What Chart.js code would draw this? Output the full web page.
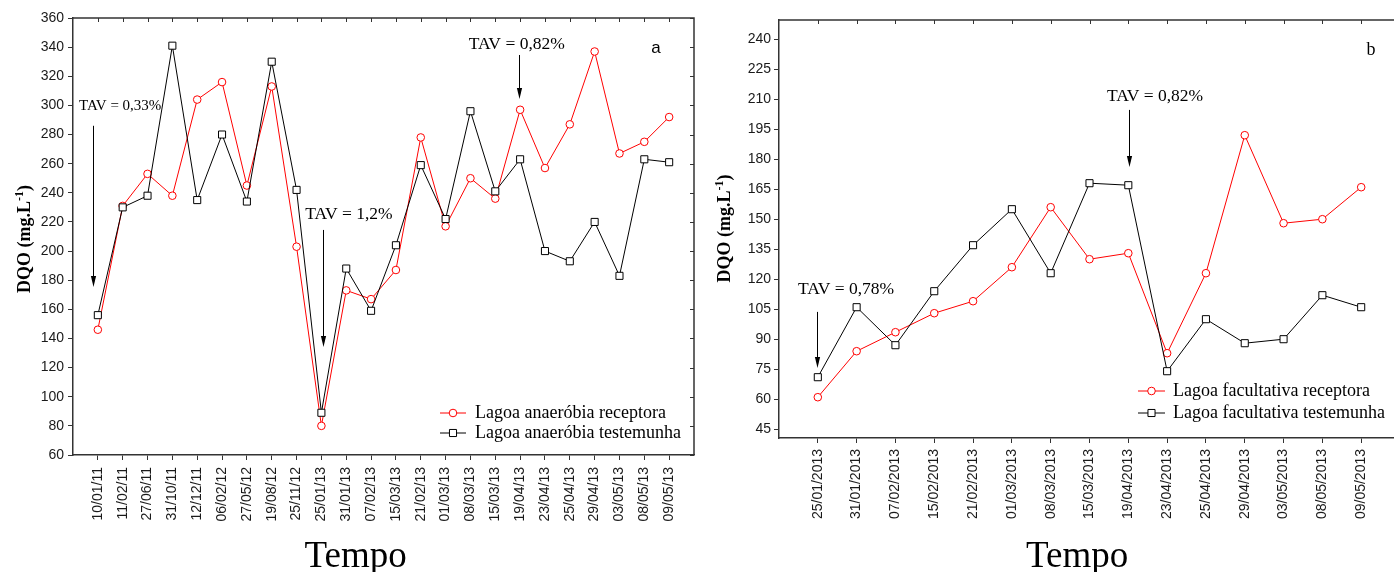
<!DOCTYPE html>
<html>
<head>
<meta charset="utf-8">
<title>DQO – lagoas</title>
<script src="https://cdn.jsdelivr.net/npm/chart.js@4/dist/chart.umd.min.js"></script>
<style>
  html, body { margin: 0; padding: 0; background: #fff; overflow: hidden; width: 1394px; height: 572px; position: relative; }
  canvas { position: absolute; top: 0; }
  #chartA { left: 0; }
  #chartB { left: 700px; }
</style>
</head>
<body>
<canvas id="chartA" width="700" height="572"></canvas>
<canvas id="chartB" width="706" height="572"></canvas>
<script>
// ---- Painel a: lagoas anaeróbias ----
const datasA = ['10/01/11', '11/02/11', '27/06/11', '31/10/11', '12/12/11', '06/02/12', '27/05/12', '19/08/12',
  '25/11/12', '25/01/13', '31/01/13', '07/02/13', '15/03/13', '21/02/13', '01/03/13', '08/03/13',
  '15/03/13', '19/04/13', '23/04/13', '25/04/13', '29/04/13', '03/05/13', '08/05/13', '09/05/13'];
const receptoraA = [146, 231, 253, 238, 304, 316, 245, 313, 203, 80, 173, 167, 187, 278, 217, 250, 236, 297, 257, 287, 337, 267, 275, 292];
const testemunhaA = [156, 230, 238, 341, 235, 280, 234, 330, 242, 89, 188, 159, 204, 259, 222, 296, 241, 263, 200, 193, 220, 183, 263, 261];
const yTicksA = [60, 80, 100, 120, 140, 160, 180, 200, 220, 240, 260, 280, 300, 320, 340, 360];

// ---- Painel b: lagoas facultativas ----
const datasB = ['25/01/2013', '31/01/2013', '07/02/2013', '15/02/2013', '21/02/2013', '01/03/2013', '08/03/2013',
  '15/03/2013', '19/04/2013', '23/04/2013', '25/04/2013', '29/04/2013', '03/05/2013', '08/05/2013', '09/05/2013'];
const receptoraB = [61, 84, 93.5, 103, 109, 126, 156, 130, 133, 83, 123, 192, 148, 150, 166];
const testemunhaB = [71, 106, 87, 114, 137, 155, 123, 168, 167, 74, 100, 88, 90, 112, 106];
const yTicksB = [45, 60, 75, 90, 105, 120, 135, 150, 165, 180, 195, 210, 225, 240];

const SERIF = '"Liberation Serif", "Times New Roman", serif';
const SANS = '"Liberation Sans", Arial, sans-serif';
const AXIS = '#333';
const INK = '#1a1a1a';

// Frame, inward ticks, TAV notes, legend and axis titles
const panelDecor = {
  id: 'panelDecor',
  afterDraw(chart, args, o) {
    const { ctx, chartArea: ca, scales: { x, y } } = chart;
    ctx.save();

    // top and right sides of the frame
    ctx.strokeStyle = AXIS;
    ctx.lineWidth = 1.5;
    ctx.beginPath();
    ctx.moveTo(ca.left, ca.top);
    ctx.lineTo(ca.right, ca.top);
    ctx.lineTo(ca.right, ca.bottom);
    ctx.stroke();

    // inward tick marks on the top and right sides
    ctx.lineWidth = 1;
    ctx.beginPath();
    x.ticks.forEach(t => {
      const px = Math.round(x.getPixelForValue(t.value)) + 0.5;
      ctx.moveTo(px, ca.top);
      ctx.lineTo(px, ca.top + 4);
    });
    y.ticks.forEach(t => {
      const py = Math.round(y.getPixelForValue(t.value)) + 0.5;
      ctx.moveTo(ca.right, py);
      ctx.lineTo(ca.right - 4, py);
    });
    ctx.stroke();

    // TAV notes with arrows
    ctx.fillStyle = '#000';
    ctx.strokeStyle = '#000';
    ctx.textBaseline = 'middle';
    ctx.textAlign = 'left';
    o.notes.forEach(n => {
      ctx.font = `${n.size}px ${SERIF}`;
      ctx.fillText(n.text, x.getPixelForValue(n.tx), y.getPixelForValue(n.ty));
      const ax = Math.round(x.getPixelForValue(n.ax)) + 0.5;
      const y1 = y.getPixelForValue(n.ay1);
      const y2 = y.getPixelForValue(n.ay2);
      ctx.lineWidth = 1;
      ctx.beginPath();
      ctx.moveTo(ax, y1);
      ctx.lineTo(ax, y2 - 6);
      ctx.stroke();
      ctx.beginPath();
      ctx.moveTo(ax, y2);
      ctx.lineTo(ax - 2.6, y2 - 11);
      ctx.lineTo(ax + 2.6, y2 - 11);
      ctx.closePath();
      ctx.fill();
    });

    // panel letter
    ctx.font = o.letter.font;
    ctx.textAlign = 'center';
    ctx.fillText(o.letter.text, x.getPixelForValue(o.letter.x), y.getPixelForValue(o.letter.y));

    // legend
    const lg = o.legend;
    chart.data.datasets.forEach((ds, i) => {
      const ry = ca.bottom + lg.rows[i];
      const x0 = ca.right + lg.lineFrom, x1 = ca.right + lg.lineTo;
      ctx.strokeStyle = ds.borderColor;
      ctx.lineWidth = 1;
      ctx.beginPath();
      ctx.moveTo(x0, ry);
      ctx.lineTo(x1, ry);
      ctx.stroke();
      ctx.fillStyle = ds.pointBackgroundColor;
      Chart.helpers.drawPoint(ctx, { pointStyle: ds.pointStyle, radius: ds.pointRadius, rotation: 0, borderWidth: 1 }, (x0 + x1) / 2, ry);
      ctx.fillStyle = '#000';
      ctx.font = `18px ${SERIF}`;
      ctx.textAlign = 'left';
      ctx.textBaseline = 'middle';
      ctx.fillText(ds.label, ca.right + lg.text, ry);
    });

    // y axis title with superscript
    ctx.save();
    ctx.translate(o.yTitle.x, o.yTitle.y);
    ctx.rotate(-Math.PI / 2);
    ctx.fillStyle = '#000';
    ctx.textBaseline = 'alphabetic';
    ctx.textAlign = 'left';
    const big = `bold 18px ${SERIF}`, small = `bold 12px ${SERIF}`;
    const partA = 'DQO (mg.L', sup = '-1', partB = ')';
    ctx.font = big; const wA = ctx.measureText(partA).width, wB = ctx.measureText(partB).width;
    ctx.font = small; const wS = ctx.measureText(sup).width;
    let cx = -(wA + wS + wB) / 2;
    const base = 6;
    ctx.font = big; ctx.fillText(partA, cx, base); cx += wA;
    ctx.font = small; ctx.fillText(sup, cx, base - 7); cx += wS;
    ctx.font = big; ctx.fillText(partB, cx, base);
    ctx.restore();

    // x axis title
    ctx.font = `37px ${SERIF}`;
    ctx.fillStyle = '#000';
    ctx.textAlign = 'center';
    ctx.textBaseline = 'alphabetic';
    ctx.fillText('Tempo', x.getPixelForValue(o.xTitle.x), o.xTitle.baseline);

    ctx.restore();
  }
};

function makePanel(id, cats, rec, tes, yTicks, yMin, yMax, labels, box, decor) {
  const pts = arr => arr.map((v, i) => ({ x: i, y: v }));
  return new Chart(document.getElementById(id), {
    type: 'line',
    data: {
      datasets: [
        {
          label: labels[0], data: pts(rec), order: 1,
          borderColor: '#ff0000', borderWidth: 1, tension: 0,
          pointStyle: 'circle', pointRadius: 3.8, pointBorderWidth: 1,
          pointBackgroundColor: '#ffffff', pointBorderColor: '#ff0000'
        },
        {
          label: labels[1], data: pts(tes), order: 0,
          borderColor: '#000000', borderWidth: 1, tension: 0,
          pointStyle: 'rect', pointRadius: 5, pointBorderWidth: 1,
          pointBackgroundColor: '#ffffff', pointBorderColor: '#000000'
        }
      ]
    },
    options: {
      responsive: false,
      animation: false,
      devicePixelRatio: 1,
      layout: { padding: { top: box.top, right: box.right, left: 0, bottom: 0 } },
      plugins: { legend: { display: false }, tooltip: { enabled: false }, panelDecor: decor },
      scales: {
        x: {
          type: 'linear', min: -1, max: cats.length,
          afterBuildTicks: s => { s.ticks = cats.map((_, i) => ({ value: i })); },
          afterFit: s => { s.height = box.xHeight; },
          ticks: {
            autoSkip: false, minRotation: 90, maxRotation: 90, padding: box.xPad,
            color: INK, font: { family: SANS, size: 14 },
            callback: v => cats[v] ?? ''
          },
          grid: { drawOnChartArea: false, drawTicks: true, tickLength: 5, color: AXIS, lineWidth: 1 },
          border: { display: true, color: AXIS, width: 1.5 }
        },
        y: {
          type: 'linear', min: yMin, max: yMax,
          afterBuildTicks: s => { s.ticks = yTicks.map(v => ({ value: v })); },
          afterFit: s => { s.width = box.yWidth; },
          ticks: { padding: box.yPad, color: INK, font: { family: SANS, size: 14 } },
          grid: { drawOnChartArea: false, drawTicks: true, tickLength: 5, color: AXIS, lineWidth: 1 },
          border: { display: true, color: AXIS, width: 1.5 }
        }
      }
    },
    plugins: [panelDecor]
  });
}

makePanel('chartA', datasA, receptoraA, testemunhaA, yTicksA, 60, 360,
  ['Lagoa anaeróbia receptora', 'Lagoa anaeróbia testemunha'],
  { top: 18, right: 4, xHeight: 117, yWidth: 73, yPad: 4, xPad: 7 },
  {
    notes: [
      { text: 'TAV = 0,33%', size: 15, tx: -0.76, ty: 299.6, ax: -0.2, ay1: 286, ay2: 175.3 },
      { text: 'TAV = 1,2%', size: 17.5, tx: 8.35, ty: 225.4, ax: 9.07, ay1: 214.5, ay2: 134.1 },
      { text: 'TAV = 0,82%', size: 17.5, tx: 14.93, ty: 342.2, ax: 16.95, ay1: 334.6, ay2: 304.4 }
    ],
    letter: { text: 'a', font: `17px ${SANS}`, x: 22.47, y: 339.4 },
    legend: { lineFrom: -254, lineTo: -228, text: -219, rows: [-42, -22] },
    yTitle: { x: 24, y: 239 },
    xTitle: { x: 10.38, baseline: 567 }
  });

makePanel('chartB', datasB, receptoraB, testemunhaB, yTicksB, 40.6, 249.6,
  ['Lagoa facultativa receptora', 'Lagoa facultativa testemunha'],
  { top: 20, right: 4.3, xHeight: 134, yWidth: 79, yPad: 3, xPad: 6 },
  {
    notes: [
      { text: 'TAV = 0,78%', size: 17.5, tx: -0.51, ty: 114.65, ax: -0.03, ay1: 103.65, ay2: 75.65 },
      { text: 'TAV = 0,82%', size: 17.5, tx: 7.45, ty: 211.15, ax: 8.02, ay1: 204.65, ay2: 176.15 }
    ],
    letter: { text: 'b', font: `18px ${SERIF}`, x: 14.25, y: 234.3 },
    legend: { lineFrom: -262, lineTo: -235, text: -227, rows: [-47, -25] },
    yTitle: { x: 24, y: 228.5 },
    xTitle: { x: 6.68, baseline: 567 }
  });
</script>
</body>
</html>
